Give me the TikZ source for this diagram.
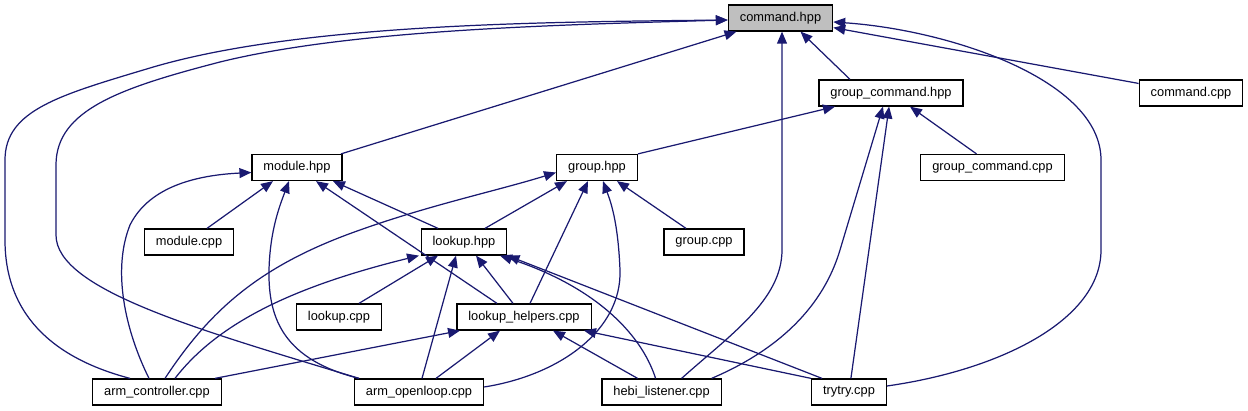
\documentclass[tikz,border=0pt]{standalone}
\usepackage{fontspec}
\setmainfont{Liberation Sans}
\usetikzlibrary{arrows.meta,calc}
\definecolor{edgeblue}{RGB}{25,25,112}
\begin{document}
\begin{tikzpicture}[
                x=0.02cm, y=-0.02cm,
                every node/.style={draw,line width=0.7pt,fill=white,minimum height=0.52cm,inner xsep=0.23cm,inner ysep=0pt,font=\fontsize{7.3}{8}\selectfont},
                dep/.style={draw=edgeblue,line width=0.7pt,-{Triangle[length=6.8pt,width=5.6pt]}}
            ]
            \useasboundingbox (0,0) rectangle (1248,411);

            \node[fill=black!25] (cmdhpp) at (780.5,18) {command.hpp};
            \node (gcmdhpp) at (891,93) {group\_command.hpp};
            \node (cmdcpp) at (1191,93) {command.cpp};
            \node (modhpp) at (297,167.5) {module.hpp};
            \node (grphpp) at (597,167.5) {group.hpp};
            \node (gcmdcpp) at (992.5,167.5) {group\_command.cpp};
            \node (modcpp) at (189,242) {module.cpp};
            \node (lkphpp) at (464,242) {lookup.hpp};
            \node (grpcpp) at (704,242) {group.cpp};
            \node (lkpcpp) at (339,317) {lookup.cpp};
            \node (lkphelp) at (524,317) {lookup\_helpers.cpp};
            \node (armctl) at (157,392) {arm\_controller.cpp};
            \node (armol) at (419,392) {arm\_openloop.cpp};
            \node (hebi) at (661.6,392) {hebi\_listener.cpp};
            \node (trytry) at (849,392) {trytry.cpp};

            % into command.hpp
            \draw[dep] ($(gcmdhpp.north)+(-41,0)$) -- ($(cmdhpp.south)+(20,0)$);
            \draw[dep] (cmdcpp) -- (cmdhpp);
            \draw[dep] (modhpp) -- (cmdhpp);
            \draw[dep] ($(hebi.north)+(20,0)$) .. controls (730,335) and (782,300) .. (782,250) -- ($(cmdhpp.south)+(1.5,0)$);
            \draw[dep] ($(trytry.east)+(0,-6)$) .. controls (1000,370) and (1101,320) .. (1101,250) -- (1101,160) .. controls (1101,80) and (950,30) .. ($(cmdhpp.east)+(0,4)$);
            \draw[dep] ($(armctl.north)+(-27,0)$) .. controls (60,360) and (5,320) .. (5,240) -- (5,160) .. controls (5,110) and (60,95) .. (150,68) .. controls (300,23) and (550,22) .. ($(cmdhpp.west)+(0,2)$);
            \draw[dep] ($(armol.north)+(-60,0)$) .. controls (200,330) and (56,290) .. (56,235) -- (56,165) .. controls (56,110) and (120,88) .. (220,62) .. controls (350,30) and (550,25) .. ($(cmdhpp.west)+(0,2)$);

            % into group_command.hpp
            \draw[dep] ($(gcmdcpp.north)+(-16,0)$) -- ($(gcmdhpp.south)+(19,0)$);
            \draw[dep] (grphpp.north east) -- ($(gcmdhpp.south)+(-56,0)$);
            \draw[dep] ($(hebi.north)+(50,0)$) .. controls (790,345) and (826,297) .. (840,250) -- ($(gcmdhpp.south)+(-8,0)$);
            \draw[dep] (trytry) -- (gcmdhpp);

            % into module.hpp
            \draw[dep] ($(modcpp.north)+(18,0)$) -- ($(modhpp.south)+(-24,0)$);
            \draw[dep] ($(lkphpp.north)+(-26,0)$) -- ($(modhpp.south)+(36,0)$);
            \draw[dep] ($(lkphelp.north)+(-27,0)$) -- ($(modhpp.south)+(19,0)$);
            \draw[dep] ($(armctl.north)+(-8,0)$) .. controls (125,330) and (112,270) .. (130,225) .. controls (150,185) and (200,175) .. ($(modhpp.west)+(0,5)$);
            \draw[dep] ($(armol.north)+(-60,0)$) .. controls (285,360) and (268,320) .. (269,270) .. controls (270,230) and (280,205) .. ($(modhpp.south)+(-8,0)$);

            % into group.hpp
            \draw[dep] ($(grpcpp.north)+(-18,0)$) -- ($(grphpp.south)+(20,0)$);
            \draw[dep] ($(lkphpp.north)+(21,0)$) -- ($(grphpp.south)+(-30,0)$);
            \draw[dep] ($(lkphelp.north)+(6,0)$) -- ($(grphpp.south)+(-9,0)$);
            \draw[dep] ($(armctl.north)+(8,0)$) .. controls (210,310) and (260,265) .. (360,230) .. controls (430,205) and (500,190) .. ($(grphpp.west)+(0,5)$);
            \draw[dep] ($(armol.east)+(0,-5)$) .. controls (560,375) and (622,330) .. (620,270) .. controls (618,220) and (610,200) .. ($(grphpp.south)+(6,0)$);

            % into lookup.hpp
            \draw[dep] ($(lkpcpp.north)+(20,0)$) -- ($(lkphpp.south)+(-26,0)$);
            \draw[dep] ($(lkphelp.north)+(-11,0)$) -- ($(lkphpp.south)+(12,0)$);
            \draw[dep] ($(armctl.north)+(18,0)$) .. controls (220,320) and (300,285) .. ($(lkphpp.south)+(-45,0)$);
            \draw[dep] ($(armol.north)+(3,0)$) -- ($(lkphpp.south)+(-8,0)$);
            \draw[dep] ($(hebi.north)+(-6,0)$) .. controls (640,330) and (590,285) .. ($(lkphpp.south)+(36,0)$);
            \draw[dep] ($(trytry.north)+(-27,0)$) -- (lkphpp.south east);

            % into lookup_helpers.cpp
            \draw[dep] ($(armctl.north)+(58,0)$) -- ($(lkphelp.south)+(-64,0)$);
            \draw[dep] ($(armol.north)+(17,0)$) -- ($(lkphelp.south)+(-24,0)$);
            \draw[dep] ($(hebi.north)+(-24,0)$) -- ($(lkphelp.south)+(29,0)$);
            \draw[dep] (trytry.north west) -- ($(lkphelp.south)+(60,0)$);

\end{tikzpicture}
\end{document}
